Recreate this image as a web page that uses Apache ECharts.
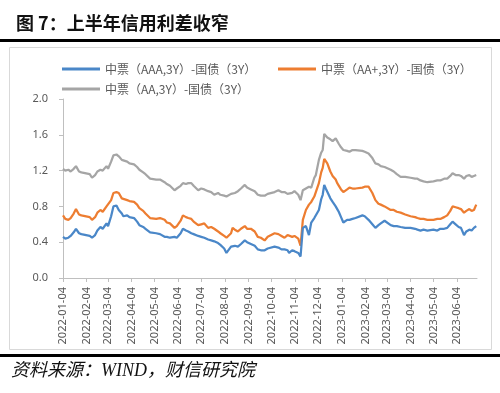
<!DOCTYPE html>
<html>
<head>
<meta charset="utf-8">
<script src="https://cdn.jsdelivr.net/npm/echarts@6/dist/echarts.min.js"></script>
<style>
html,body{margin:0;padding:0;background:#fff;}
#c{width:500px;height:393px;}
</style>
</head>
<body>
<div id="c"></div>
<script>
const seriesNames = ['中票（AAA,3Y）-国债（3Y）', '中票（AA+,3Y）-国债（3Y）', '中票（AA,3Y）-国债（3Y）'];
const yTicks = [0, 0.4, 0.8, 1.2, 1.6, 2.0];
const axisStart = '2022-01-04';
const axisEnd = '2023-06-30';

const dates = [
'2022-01-04','2022-01-07','2022-01-11','2022-01-14','2022-01-18','2022-01-21','2022-01-25','2022-01-28',
'2022-02-08','2022-02-11','2022-02-15','2022-02-18','2022-02-22','2022-02-25',
'2022-03-02','2022-03-04','2022-03-08','2022-03-11','2022-03-15','2022-03-18','2022-03-22','2022-03-24','2022-03-29',
'2022-04-01','2022-04-07','2022-04-11','2022-04-14','2022-04-19','2022-04-22','2022-04-28',
'2022-05-06','2022-05-11','2022-05-17','2022-05-20','2022-05-24','2022-05-26','2022-05-30',
'2022-06-02','2022-06-07','2022-06-10','2022-06-14','2022-06-17','2022-06-21','2022-06-24','2022-06-30',
'2022-07-04','2022-07-08','2022-07-13','2022-07-17','2022-07-21','2022-07-26','2022-07-29',
'2022-08-03','2022-08-06','2022-08-08','2022-08-12','2022-08-14','2022-08-17','2022-08-21','2022-08-25','2022-08-30',
'2022-09-02','2022-09-07','2022-09-12','2022-09-16','2022-09-20','2022-09-25','2022-09-29',
'2022-10-08','2022-10-13','2022-10-17','2022-10-21','2022-10-25','2022-10-27','2022-10-31',
'2022-11-03','2022-11-08','2022-11-11','2022-11-14','2022-11-18','2022-11-22','2022-11-25','2022-11-29',
'2022-12-01','2022-12-05','2022-12-08','2022-12-10','2022-12-12','2022-12-14','2022-12-16','2022-12-20','2022-12-23','2022-12-27','2022-12-29','2022-12-31',
'2023-01-03','2023-01-06','2023-01-11','2023-01-14','2023-01-18','2023-01-22','2023-01-31',
'2023-02-03','2023-02-08','2023-02-13','2023-02-17','2023-02-21','2023-02-24',
'2023-03-01','2023-03-03','2023-03-09','2023-03-13','2023-03-17','2023-03-22','2023-03-28',
'2023-04-04','2023-04-10','2023-04-13','2023-04-17','2023-04-21','2023-04-26',
'2023-05-04','2023-05-09','2023-05-13','2023-05-18','2023-05-22','2023-05-26','2023-05-29',
'2023-06-02','2023-06-06','2023-06-09','2023-06-13','2023-06-16','2023-06-20','2023-06-23','2023-06-26','2023-06-29'
];

const aa = [
1.22,1.20,1.21,1.19,1.22,1.25,1.19,1.18,
1.16,1.12,1.15,1.19,1.21,1.20,
1.25,1.22,1.30,1.37,1.38,1.36,1.32,1.30,1.30,
1.28,1.27,1.24,1.21,1.18,1.16,1.11,
1.10,1.10,1.07,1.05,1.03,1.01,0.98,
1.00,1.03,1.06,1.05,1.06,1.06,1.03,0.98,
1.00,0.99,0.97,0.96,0.93,0.95,0.93,
0.92,0.91,0.90,0.94,0.96,0.95,0.97,1.00,1.04,
1.01,0.99,0.97,0.93,0.92,0.92,0.94,
0.96,0.98,0.96,0.96,0.94,0.93,0.95,
0.97,0.93,0.87,0.98,1.00,1.02,1.01,1.12,
1.15,1.32,1.40,1.43,1.61,1.59,1.57,1.55,1.53,1.56,1.58,1.50,
1.46,1.43,1.42,1.41,1.43,1.43,1.42,
1.41,1.39,1.34,1.28,1.27,1.25,
1.24,1.23,1.21,1.19,1.16,1.13,1.13,
1.12,1.11,1.11,1.09,1.08,1.07,
1.08,1.09,1.09,1.11,1.11,1.14,1.17,
1.15,1.15,1.14,1.11,1.14,1.15,1.13,1.14,1.15
];

const aaPlus = [
0.70,0.66,0.65,0.67,0.72,0.77,0.71,0.70,
0.68,0.65,0.68,0.73,0.76,0.74,
0.80,0.78,0.87,0.95,0.96,0.95,0.89,0.87,0.87,
0.86,0.85,0.82,0.78,0.75,0.72,0.67,
0.66,0.67,0.65,0.62,0.61,0.59,0.56,
0.58,0.64,0.70,0.68,0.67,0.66,0.63,0.59,
0.60,0.61,0.56,0.57,0.55,0.52,0.50,
0.47,0.45,0.43,0.50,0.56,0.54,0.52,0.55,0.58,
0.55,0.55,0.52,0.46,0.45,0.42,0.46,
0.50,0.49,0.47,0.45,0.48,0.47,0.46,
0.47,0.44,0.36,0.65,0.76,0.82,0.85,0.91,
0.93,1.06,1.18,1.23,1.33,1.34,1.28,1.19,1.14,1.10,1.06,1.04,
0.99,0.96,0.99,1.01,1.00,1.00,1.01,
1.02,1.02,0.95,0.87,0.83,0.82,
0.80,0.80,0.76,0.76,0.74,0.73,0.71,
0.69,0.68,0.67,0.66,0.66,0.65,
0.65,0.66,0.66,0.68,0.70,0.75,0.80,
0.79,0.78,0.77,0.73,0.75,0.77,0.75,0.76,0.82
];

const aaa = [
0.46,0.44,0.45,0.47,0.51,0.55,0.50,0.49,
0.47,0.45,0.48,0.53,0.57,0.55,
0.61,0.58,0.69,0.80,0.81,0.76,0.72,0.69,0.70,
0.68,0.67,0.63,0.59,0.57,0.55,0.51,
0.50,0.49,0.46,0.46,0.45,0.43,0.46,
0.45,0.50,0.55,0.53,0.52,0.50,0.49,0.47,
0.46,0.45,0.43,0.42,0.41,0.39,0.37,
0.33,0.28,0.30,0.35,0.33,0.36,0.35,0.38,0.42,
0.40,0.38,0.36,0.32,0.31,0.31,0.33,
0.35,0.34,0.32,0.32,0.31,0.28,0.31,
0.30,0.28,0.24,0.56,0.58,0.48,0.62,0.67,
0.67,0.76,0.88,0.93,1.04,1.00,0.98,0.89,0.85,0.80,0.77,0.74,
0.68,0.62,0.65,0.65,0.66,0.67,0.70,
0.69,0.65,0.60,0.56,0.59,0.61,
0.64,0.65,0.59,0.58,0.58,0.57,0.56,
0.56,0.55,0.54,0.53,0.54,0.53,
0.54,0.53,0.55,0.55,0.56,0.60,0.63,
0.60,0.57,0.56,0.48,0.52,0.54,0.53,0.56,0.58
];

function fmt(d){
  const m = String(d.getUTCMonth()+1).padStart(2,'0');
  const dd = String(d.getUTCDate()).padStart(2,'0');
  return d.getUTCFullYear()+'-'+m+'-'+dd;
}
const days = [];
{
  const [y0,m0,d0] = axisStart.split('-').map(Number);
  const [y1,m1,d1] = axisEnd.split('-').map(Number);
  const end = Date.UTC(y1,m1-1,d1);
  for (let t = Date.UTC(y0,m0-1,d0); t <= end; t += 86400000) days.push(fmt(new Date(t)));
}
function spread(vals){
  const out = new Array(days.length).fill(null);
  const idx = {};
  days.forEach((d,i)=>{idx[d]=i;});
  dates.forEach((d,i)=>{ if (idx[d]!==undefined) out[idx[d]] = vals[i]; });
  return out;
}
const isTick = (i, v) => v.slice(8) === '04';

const colors = ['#4A87C8', '#ED7D31', '#A5A5A5'];
const chart = echarts.init(document.getElementById('c'), null, {renderer:'canvas'});
const legendBase = {
  icon: 'rect', itemWidth: 38, itemHeight: 3, itemGap: 0,
  textStyle: {fontSize: 12, color: '#595959', fontFamily: 'Noto Sans CJK SC'},
  padding: 0
};
chart.setOption({
  animation: false,
  backgroundColor: '#fff',
  color: colors,
  title: {
    text: '图 7：上半年信用利差收窄',
    left: 11, top: 9,
    textStyle: {fontSize: 18, fontWeight: 'bold', color: '#111', fontFamily: 'Noto Sans CJK SC'}
  },
  graphic: [
    {type:'rect', shape:{x:0,y:39,width:500,height:3}, style:{fill:'#000'}},
    {type:'rect', shape:{x:9.5,y:47.5,width:482,height:302}, style:{fill:'none', stroke:'#D9D9D9', lineWidth:1}},
    {type:'rect', shape:{x:0,y:354,width:500,height:3}, style:{fill:'#000'}},
    {type:'text', left: 11, top: 362, style:{text:'资料来源：WIND，财信研究院', fontSize:18, fontStyle:'italic', fill:'#111', fontFamily:'Liberation Serif, Noto Sans CJK SC'}}
  ],
  legend: [
    Object.assign({}, legendBase, {data:[seriesNames[0]], left: 62, top: 63}),
    Object.assign({}, legendBase, {data:[seriesNames[1]], left: 278, top: 63}),
    Object.assign({}, legendBase, {data:[seriesNames[2]], left: 62, top: 83})
  ],
  grid: {left: 63, right: 23, top: 99, bottom: 115, containLabel: false},
  xAxis: {
    type: 'category', data: days, boundaryGap: false,
    axisLine: {lineStyle: {color: '#BFBFBF', width: 1}},
    axisTick: {show: true, interval: isTick, length: 4, lineStyle: {color: '#BFBFBF'}},
    axisLabel: {interval: isTick, rotate: 90, margin: 9, fontSize: 11, color: '#595959', fontFamily: 'Noto Sans'},
    splitLine: {show: false}
  },
  yAxis: {
    type: 'value', min: yTicks[0], max: yTicks[yTicks.length-1], interval: 0.4,
    axisLine: {show: true, lineStyle: {color: '#BFBFBF', width: 1}},
    axisTick: {show: true, length: 4, lineStyle: {color: '#BFBFBF'}},
    axisLabel: {formatter: v => v.toFixed(1), margin: 15, fontSize: 11, color: '#595959', fontFamily: 'Noto Sans'},
    splitLine: {show: false}
  },
  series: [
    {name: seriesNames[2], type: 'line', data: spread(aa), connectNulls: true, showSymbol: false, symbol: 'none', lineStyle: {width: 2.25, color: colors[2]}, itemStyle: {color: colors[2]}},
    {name: seriesNames[1], type: 'line', data: spread(aaPlus), connectNulls: true, showSymbol: false, symbol: 'none', lineStyle: {width: 2.25, color: colors[1]}, itemStyle: {color: colors[1]}},
    {name: seriesNames[0], type: 'line', data: spread(aaa), connectNulls: true, showSymbol: false, symbol: 'none', lineStyle: {width: 2.25, color: colors[0]}, itemStyle: {color: colors[0]}}
  ]
});
</script>
</body>
</html>
